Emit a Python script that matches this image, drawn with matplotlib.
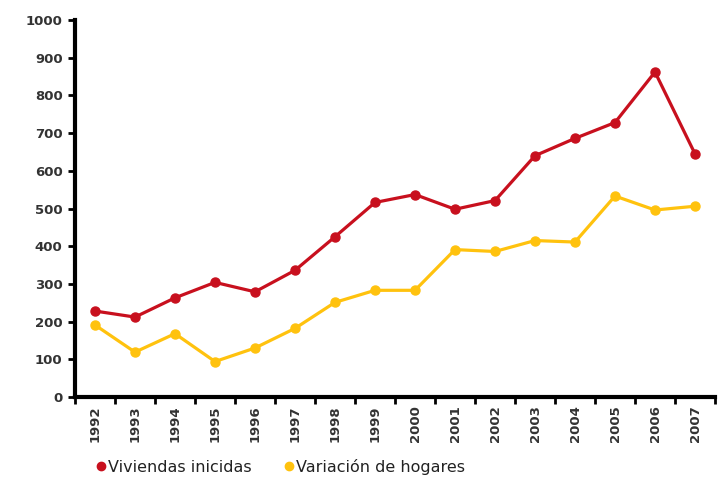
import matplotlib
matplotlib.use("Agg")
import matplotlib.pyplot as plt
import numpy as np
from matplotlib.lines import Line2D

years = ["1992", "1993", "1994", "1995", "1996", "1997", "1998", "1999",
         "2000", "2001", "2002", "2003", "2004", "2005", "2006", "2007"]
viviendas = [228, 212, 263, 304, 279, 336, 425, 516, 537, 498, 521, 640, 686, 728, 862, 645]
hogares = [191, 119, 168, 94, 130, 182, 251, 283, 283, 391, 386, 415, 411, 533, 496, 506]
yticks = [0, 100, 200, 300, 400, 500, 600, 700, 800, 900, 1000]

red = "#c8101e"
yellow = "#ffc20e"
plt.rcParams['font.family'] = ['Liberation Sans Narrow', 'DejaVu Sans']

fig = plt.figure(figsize=(7.26, 4.83), dpi=100)
ax = fig.add_axes([75/726, 1-397/483, 640/726, 377/483])

x = np.arange(len(years))
ax.plot(x, viviendas, color=red, lw=2.3, marker='o', ms=6.5, zorder=3)
ax.plot(x, hogares, color=yellow, lw=2.3, marker='o', ms=6.5, zorder=3)

ax.set_xlim(-0.5, len(years) - 0.5)
ax.set_ylim(0, 1000)
ax.set_yticks(yticks)
ax.set_yticklabels([str(v) for v in yticks], fontsize=9.5, color='#333333', fontweight='bold')

ax.set_xticks(np.arange(len(years) + 1) - 0.5)
ax.set_xticklabels([])
ax.set_xticks(x, minor=True)
ax.set_xticklabels(years, minor=True, rotation=90, fontsize=9.5, color='#333333', fontweight='bold')
ax.tick_params(axis='x', which='major', length=5, width=2, direction='out')
ax.tick_params(axis='x', which='minor', length=0, pad=6)
ax.tick_params(axis='y', length=5, width=2, direction='out', pad=4)

for s in ['top', 'right']:
    ax.spines[s].set_visible(False)
for s in ['left', 'bottom']:
    ax.spines[s].set_linewidth(3)
    ax.spines[s].set_color('black')

handles = [Line2D([], [], color=red, marker='o', ls='none', ms=6),
           Line2D([], [], color=yellow, marker='o', ls='none', ms=6)]
fig.legend(handles, ["Viviendas inicidas", "Variación de hogares"], loc='center left',
           bbox_to_anchor=(82/726, 1-467/483), ncol=2, frameon=False,
           handlelength=0.6, handletextpad=0.15, columnspacing=2.0,
           prop={'size': 11.5}, labelcolor='#222222')

fig.savefig("out.png", dpi=100, facecolor='white')
